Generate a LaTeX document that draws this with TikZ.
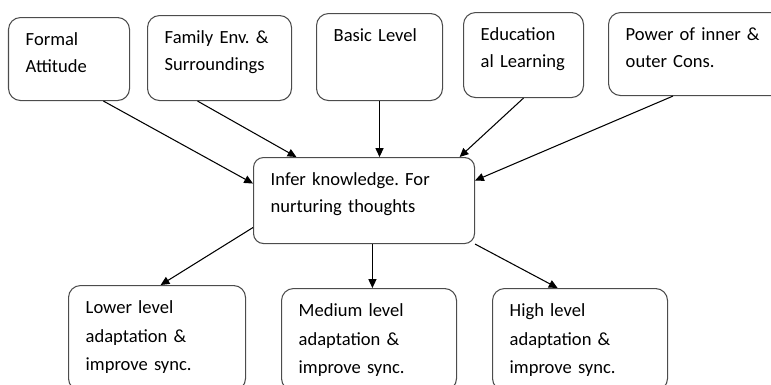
\documentclass[tikz,border=0pt]{standalone}
\usepackage{fontspec}
\setmainfont{Carlito}
\usepackage{tikz}
\usetikzlibrary{arrows.meta}
\frenchspacing
\tikzset{%
  factorBox/.style={rectangle, rounded corners=3mm, draw=black!70, line width=0.75pt, anchor=north west, align=left, inner xsep=0.43cm, inner ysep=0pt, text height=0.7cm, font=\fontsize{13.2}{19.4}\selectfont},% input factor
  coreBox/.style={factorBox, rounded corners=2.5mm},% central node
  levelBox/.style={factorBox, font=\fontsize{13.2}{20.3}\selectfont},% outcome level
  flow/.style={-{Triangle[length=2.2mm,width=2mm]}, line width=0.75pt}}

\begin{document}
\begin{tikzpicture}[]
    \useasboundingbox (0,0) rectangle (19.275,-9.6);
    \clip (0,0) rectangle (19.275,-9.6);

    \node[factorBox, text width=2.165cm, text depth=1.375cm] (formal) at (0.2,-0.425) {Formal\\Attitude};
    \node[factorBox, text width=2.74cm, text depth=1.425cm] (family) at (3.675,-0.375) {Family Env. \&\\Surroundings};
    \node[factorBox, text width=2.29cm, text depth=1.475cm] (basic) at (7.9,-0.325) {Basic Level};
    \node[factorBox, text width=2.14cm, text depth=1.425cm] (education) at (11.575,-0.3) {Education\\al Learning};
    \node[factorBox, text width=3.64cm, text depth=1.375cm] (power) at (15.2,-0.3) {Power of inner \&\\outer Cons.};

    \node[coreBox, text width=4.665cm, text depth=1.45cm] (infer) at (6.325,-3.925) {Infer knowledge. For\\nurturing thoughts};

    \node[levelBox, text width=3.565cm, text depth=1.925cm] (lower) at (1.7,-7.125) {Lower level\\adaptation \&\\improve sync.};
    \node[levelBox, text width=3.515cm, text depth=1.85cm] (medium) at (7.025,-7.2) {Medium level\\adaptation \&\\improve sync.};
    \node[levelBox, text width=3.515cm, text depth=1.85cm] (high) at (12.3,-7.2) {High level\\adaptation \&\\improve sync.};

    \draw[flow] ([xshift=0.86cm]formal.south) -- ([yshift=0.425cm]infer.west);
    \draw[flow] ([xshift=-0.55cm]family.south) -- ([xshift=-1.69cm]infer.north);
    \draw[flow] (basic.south) -- (basic.south |- infer.north);
    \draw[flow] (education.south) -- ([xshift=2.39cm]infer.north);
    \draw[flow] ([xshift=1.625cm]power.south west) -- ([yshift=0.5cm]infer.east);

    \draw[flow] ([yshift=-0.675cm]infer.west) -- ([xshift=0.09cm]lower.north);
    \draw[flow] ([xshift=0.21cm]infer.south) -- ([xshift=0.21cm]infer.south |- medium.north);
    \draw[flow] (infer.south east) -- ([xshift=-0.56cm]high.north);
\end{tikzpicture}
\end{document}
